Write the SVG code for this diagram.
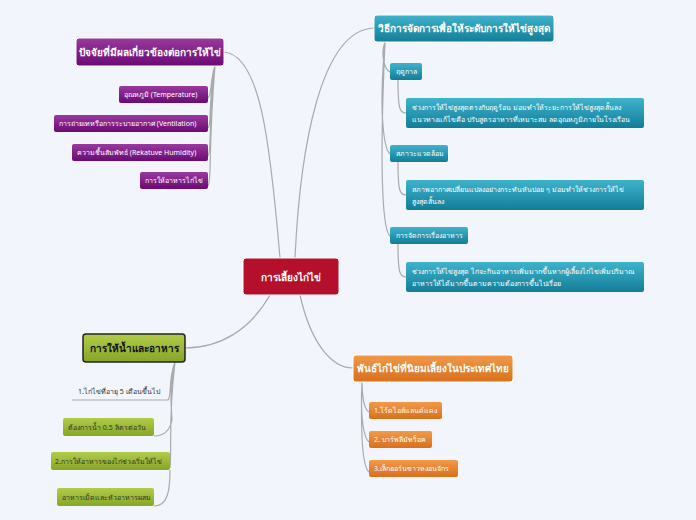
<svg xmlns="http://www.w3.org/2000/svg" width="696" height="520" viewBox="0 0 696 520">
<defs>
<linearGradient id="gt" x1="0" y1="0" x2="0" y2="1"><stop offset="0" stop-color="#3fb3cc"/><stop offset="1" stop-color="#137d98"/></linearGradient>
<linearGradient id="gp" x1="0" y1="0" x2="0" y2="1"><stop offset="0" stop-color="#9a3aa0"/><stop offset="1" stop-color="#6a0a72"/></linearGradient>
<linearGradient id="gg" x1="0" y1="0" x2="0" y2="1"><stop offset="0" stop-color="#b2cc4a"/><stop offset="1" stop-color="#86a626"/></linearGradient>
<linearGradient id="go" x1="0" y1="0" x2="0" y2="1"><stop offset="0" stop-color="#f19a4a"/><stop offset="1" stop-color="#d8701c"/></linearGradient>
</defs>
<style>
text{font-family:"Noto Sans","Liberation Sans",sans-serif;}
.m{font-size:10px;font-weight:bold;fill:#fff;}
.s{font-size:7px;fill:#fff;}
.sd{font-size:7px;fill:#333;}
.c{fill:none;stroke:#aaaaaa;stroke-width:1.2;}
.b{stroke:#fff;stroke-width:1;}
</style>
<rect width="696" height="520" fill="#f2f5fc"/>
<g id="connectors">
<path class="c" d="M295,258 C300,150 320,30 374,28"/>
<path class="c" d="M280,258 C270,140 260,55 224,52"/>
<path class="c" d="M270,295 C250,330 220,348 185,348"/>
<path class="c" d="M300,295 C310,340 330,368 353,368"/>
<path class="c" d="M385,42 C380,55 385,70 390,72 M385,42 C378,120 385,150 390,154 M385,42 C378,200 385,232 390,236"/>
<path class="c" d="M398,80 C398,110 400,113 406,113 M398,162 C398,192 400,195 406,195 M398,244 C398,274 400,277 406,277"/>
<path class="c" d="M215,66 C210,80 212,95 208,98 M215,66 C208,100 212,125 208,128 M215,66 C208,120 212,150 208,156 M215,66 C208,150 212,180 208,186"/>
<path class="c" d="M175,362 C168,380 172,396 168,400 L72,400 M175,362 C168,390 172,414 172,420 C170,430 165,436 154,436 M175,362 C168,420 172,450 170,468 M170,470 C170,490 168,506 154,506"/>
<path class="c" d="M362,382 C362,395 364,410 369,412 M362,382 C360,420 364,438 369,442 M362,382 C360,450 364,468 369,472"/>
</g>
<g id="center"><rect x="243" y="258" width="96" height="37" rx="3" fill="#b5102b" class="b"/><text x="291" y="281" text-anchor="middle" class="m" font-size="12">การเลี้ยงไก่ไข่</text></g>
<g id="n-manage"><rect x="374" y="15" width="180" height="27" rx="3" fill="url(#gt)" class="b"/><text x="464" y="32" text-anchor="middle" class="m">วิธีการจัดการเพื่อให้ระดับการให้ไข่สูงสุด</text></g>
<g id="n-season"><rect x="390" y="63" width="32" height="17" rx="2" fill="url(#gt)"/><text x="396" y="74" class="s">ฤดูกาล</text></g>
<g id="n-season-d"><rect x="406" y="98" width="238" height="30" rx="2" fill="url(#gt)"/><text x="412" y="110" class="s">ช่วงการให้ไข่สูงสุดตรงกับฤดูร้อน ม่อมทำให้ระยะการให้ไข่สูงสุดสั้นลง</text><text x="412" y="122" class="s">แนวทางแก้ไขคือ ปรับสูตรอาหารที่เหมาะสม ลดอุณหภูมิภายในโรงเรือน</text></g>
<g id="n-env"><rect x="390" y="145" width="58" height="17" rx="2" fill="url(#gt)"/><text x="396" y="156" class="s">สภาวะแวดล้อม</text></g>
<g id="n-env-d"><rect x="406" y="180" width="238" height="30" rx="2" fill="url(#gt)"/><text x="412" y="192" class="s">สภาพอากาศเปลี่ยนแปลงอย่างกระทันหันบ่อย ๆ ม่อมทำให้ช่วงการให้ไข่</text><text x="412" y="204" class="s">สูงสุดสั้นลง</text></g>
<g id="n-food"><rect x="390" y="227" width="78" height="17" rx="2" fill="url(#gt)"/><text x="396" y="238" class="s">การจัดการเรื่องอาหาร</text></g>
<g id="n-food-d"><rect x="406" y="262" width="238" height="30" rx="2" fill="url(#gt)"/><text x="412" y="274" class="s">ช่วงการให้ไข่สูงสุด ไก่จะกินอาหารเพิ่มมากขึ้นหากผู้เลี้ยงไก่ไข่เพิ่มปริมาณ</text><text x="412" y="286" class="s">อาหารให้ได้มากขึ้นตามความต้องการขึ้นไปเรื่อย</text></g>
<g id="n-factor"><rect x="76" y="38" width="148" height="28" rx="3" fill="url(#gp)" class="b"/><text x="150" y="56" text-anchor="middle" class="m">ปัจจัยที่มีผลเกี่ยวข้องต่อการให้ไข่</text></g>
<g id="n-temp"><rect x="119" y="86" width="89" height="17" rx="2" fill="url(#gp)"/><text x="124" y="97" class="s">อุณหภูมิ (Temperature)</text></g>
<g id="n-vent"><rect x="54" y="115" width="154" height="17" rx="2" fill="url(#gp)"/><text x="59" y="126" class="s">การถ่ายเทหรือการระบายอากาศ (Ventilation)</text></g>
<g id="n-hum"><rect x="72" y="144" width="136" height="17" rx="2" fill="url(#gp)"/><text x="77" y="155" class="s">ความชื้นสัมพัทธ์ (Rekatuve Humidity)</text></g>
<g id="n-feed"><rect x="140" y="172" width="68" height="17" rx="2" fill="url(#gp)"/><text x="145" y="183" class="s">การให้อาหารไก่ไข่</text></g>
<g id="n-water"><rect x="83" y="334" width="102" height="28" rx="3" fill="url(#gg)" stroke="#222" stroke-width="1.5"/><text x="134" y="352" text-anchor="middle" class="m" fill="#111" style="fill:#111">การให้น้ำและอาหาร</text></g>
<g id="n-w1"><text x="78" y="394" class="sd">1.ไก่ไข่ที่อายุ 5 เดือนขึ้นไป</text></g>
<g id="n-w2"><rect x="63" y="418" width="91" height="18" rx="2" fill="url(#gg)"/><text x="68" y="430" class="sd">ต้องการน้ำ 0.5 ลิตรต่อวัน</text></g>
<g id="n-w3"><rect x="51" y="452" width="119" height="18" rx="2" fill="url(#gg)"/><text x="55" y="464" class="sd">2.การให้อาหารของไก่ช่วงเริ่มให้ไข่</text></g>
<g id="n-w4"><rect x="57" y="488" width="97" height="18" rx="2" fill="url(#gg)"/><text x="62" y="500" class="sd">อาหารเม็ดและหัวอาหารผสม</text></g>
<g id="n-breed"><rect x="353" y="355" width="160" height="27" rx="3" fill="url(#go)" class="b"/><text x="433" y="372" text-anchor="middle" class="m">พันธ์ไก่ไข่ที่นิยมเลี้ยงในประเทศไทย</text></g>
<g id="n-b1"><rect x="369" y="402" width="73" height="17" rx="2" fill="url(#go)"/><text x="374" y="413" class="s">1.โร้ดไอส์แลนด์แดง</text></g>
<g id="n-b2"><rect x="369" y="431" width="63" height="17" rx="2" fill="url(#go)"/><text x="374" y="442" class="s">2. บาร์พลีมัทร็อค</text></g>
<g id="n-b3"><rect x="369" y="460" width="89" height="17" rx="2" fill="url(#go)"/><text x="374" y="471" class="s">3.เล็กฮอร์นขาวหงอนจักร</text></g>
</svg>
